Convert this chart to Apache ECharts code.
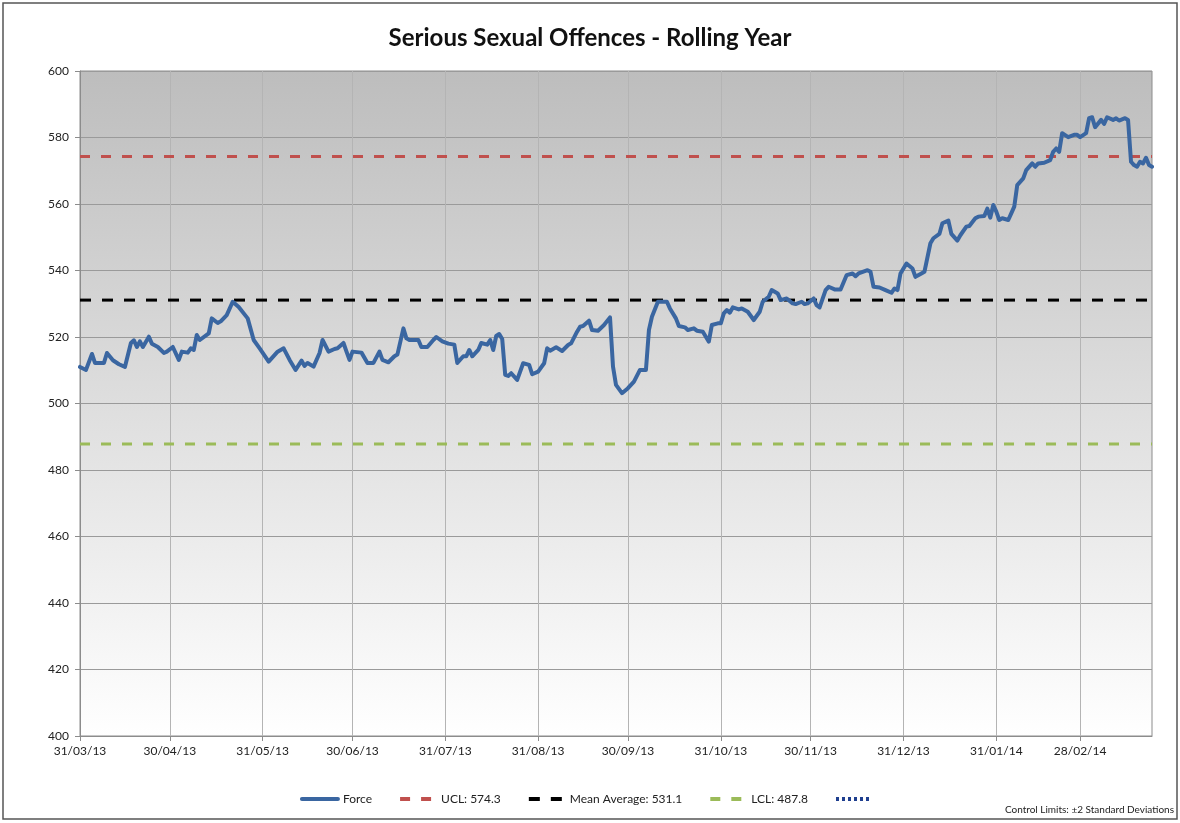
<!DOCTYPE html>
<html>
<head>
<meta charset="utf-8">
<title>Serious Sexual Offences - Rolling Year</title>
<script src="https://cdn.jsdelivr.net/npm/echarts@6/dist/echarts.min.js"></script>
<style>
  html, body { margin: 0; padding: 0; background: #fff; }
  #chart { width: 1180px; height: 823px; }
</style>
</head>
<body>
<div id="chart"></div>
<script>
// control limits
var ucl = 574.3;
var meanAvg = 531.1;
var lcl = 487.8;

// daily axis: 31/03/13 .. 24/03/14
var startDay = Date.UTC(2013, 2, 31);
var dayCount = 359;

// force rolling year (day = days after 31/03/13)
var forceDay = [
  0, 2, 4, 5, 8, 9, 11, 13, 15, 17, 18, 19, 20, 21, 23, 24, 26, 28, 29, 31,
  33, 34, 36, 37, 38, 39, 40, 43, 44, 46, 47, 49, 51, 53, 56, 58, 60, 63, 66, 68,
  70, 72,
  74, 75, 76, 78, 80, 81, 83, 85, 86, 88, 89, 90, 91, 94, 96, 98, 100, 101, 103, 105,
  106, 108, 109, 110, 113, 114, 116, 118, 119, 121, 123, 125, 126, 128, 129, 130, 131, 133, 134, 136,
  137, 138, 139, 140, 141,
  142, 143, 144, 146, 148, 150, 151, 153, 155, 156, 157, 159, 161, 163, 164, 166, 167, 168, 170, 171,
  173, 175, 177, 178, 179, 181, 183, 185, 187, 189, 190, 191, 193, 196, 197, 199, 200, 202, 203, 205,
  206, 208, 210, 211, 213,
  214, 215, 216, 217, 218, 220, 221, 223, 225, 227, 228, 230, 231, 233, 234, 236, 238, 239, 241, 242,
  243, 245, 246, 247, 249, 250, 252, 254, 256, 258, 259, 260, 263, 264, 265, 267, 269, 271, 272, 273,
  274, 276, 278, 279, 281, 282, 284, 285, 287,
  288, 290, 291, 293, 294, 296, 297, 299, 300, 302, 303, 304, 305, 306, 307, 308, 310, 311, 312, 313,
  315, 316, 318, 319, 320, 322, 324, 325, 326, 327, 328, 330, 332, 333, 334, 336, 337, 338, 339, 341,
  342, 343, 345, 346, 347, 349, 350, 351, 352, 353, 354, 355, 356, 357, 358
];
var forceValue = [
  511, 510.1, 514.9, 512.2, 512.2, 515.2, 513, 511.8, 511, 518.2, 519, 517, 518.7, 517, 520.1, 518, 517, 515.2, 515.6, 517,
  513.1, 515.6, 515.3, 516.6, 516.1, 520.6, 519.1, 521.1, 525.6, 524.2, 524.7, 526.6, 530.6, 529, 525.6, 519.1, 516.6, 512.6, 515.6, 516.6,
  513.1, 510.1,
  512.9, 511.3, 512.2, 511.1, 515.2, 519.1, 515.6, 516.4, 516.6, 518.2, 515.6, 513.1, 515.6, 515.3, 512.2, 512.2, 515.6, 513.1, 512.4, 514.2,
  514.7, 522.6, 519.6, 519.1, 519.1, 517, 517, 519.1, 520, 518.7, 518, 517.7, 512.2, 514.2, 514.2, 516.1, 514.2, 516.1, 518.2, 517.7,
  519.1, 516.1, 520.3, 520.9, 519.4,
  508.6, 508.3, 509.1, 507.1, 512.1, 511.6, 508.8, 509.6, 512.1, 516.6, 515.9, 516.9, 515.8, 517.6, 518.1, 521.6, 523.1, 523.3, 524.9, 522.1,
  521.9, 523.6, 525.9, 511.1, 505.6, 503.1, 504.6, 506.6, 510.1, 510.1, 522.1, 526.1, 530.6, 530.6, 528.6, 525.6, 523.3, 522.9, 522.1, 522.6,
  521.9, 521.6, 518.6, 523.6, 524.1,
  524.1, 527.1, 528.1, 527.3, 528.9, 528.3, 528.6, 527.6, 525.1, 527.6, 530.6, 532.1, 534.1, 533.1, 531.1, 531.6, 530.1, 529.9, 530.6, 529.9,
  530.1, 531.6, 529.6, 528.9, 534.1, 535.1, 534.3, 534.3, 538.6, 539.1, 538.3, 539.1, 540.1, 539.6, 535.1, 534.9, 534.1, 533.3, 534.6, 534.1,
  539.1, 542.1, 540.6, 538.1, 539.1, 539.6, 548.2, 549.7, 551,
  554.2, 555, 551, 549, 550.6, 553.2, 553.4, 555.7, 556.2, 556.4, 558.6, 555.9, 559.7, 557.7, 555.2, 555.7, 555.2, 557.2, 559.2, 565.7,
  567.7, 570.2, 572.2, 571.2, 572.2, 572.4, 573.2, 575.7, 576.7, 575.7, 581.3, 580.1, 580.8, 580.8, 580.1, 581.3, 585.8, 586.1, 583.1, 585.3,
  584.1, 586.1, 585.3, 585.8, 585.1, 585.8, 585.3, 572.7, 571.7, 571.2, 572.7, 572.2, 573.9, 571.7, 571.2
];

var yTicks = { min: 400, max: 600, step: 20 };

function pad(n) { return n < 10 ? '0' + n : '' + n; }

// build the daily category labels dd/mm/yy
var dayLabels = [];
var monthEnd = [];
for (var i = 0; i < dayCount; i++) {
  var d = new Date(startDay + i * 86400000);
  var next = new Date(startDay + (i + 1) * 86400000);
  dayLabels.push(pad(d.getUTCDate()) + '/' + pad(d.getUTCMonth() + 1) + '/' + pad(d.getUTCFullYear() % 100));
  monthEnd.push(next.getUTCDate() === 1);
}
function isMonthEnd(idx) { return monthEnd[idx]; }

var fontFam = 'Lato, "Open Sans", sans-serif';
var lastDay = dayCount - 1;

var chart = echarts.init(document.getElementById('chart'));
chart.setOption({
  animation: false,
  backgroundColor: '#ffffff',
  textStyle: { fontFamily: fontFam },
  title: {
    text: 'Serious Sexual Offences - Rolling Year',
    left: 'center',
    top: 21,
    textStyle: { fontSize: 24, fontWeight: 'bold', color: '#111', fontFamily: fontFam }
  },
  grid: {
    left: 80, right: 28, top: 71, bottom: 87,
    show: true,
    borderColor: '#8c8c8c',
    borderWidth: 1,
    backgroundColor: {
      type: 'linear', x: 0, y: 0, x2: 0, y2: 1,
      colorStops: [
        { offset: 0, color: '#bdbdbd' },
        { offset: 0.5, color: '#dedede' },
        { offset: 1, color: '#ffffff' }
      ]
    }
  },
  legend: {
    bottom: 13,
    left: 'center',
    itemWidth: 36,
    itemHeight: 10,
    itemGap: 26,
    itemStyle: { color: 'rgba(0,0,0,0)', borderWidth: 0 },
    lineStyle: { width: 4 },
    textStyle: { fontSize: 12, color: '#222', fontFamily: fontFam },
    data: ['Force', 'UCL: ' + ucl.toFixed(1), 'Mean Average: ' + meanAvg.toFixed(1), 'LCL: ' + lcl.toFixed(1), ' ']
  },
  xAxis: {
    type: 'category',
    data: dayLabels,
    boundaryGap: false,
    axisLine: { lineStyle: { color: '#8c8c8c' } },
    axisTick: { interval: isMonthEnd, length: 5, lineStyle: { color: '#8c8c8c' } },
    axisLabel: { interval: isMonthEnd, color: '#222', fontSize: 12, margin: 9, fontFamily: fontFam },
    splitLine: { show: true, interval: isMonthEnd, lineStyle: { color: '#b4b4b4', width: 1 } }
  },
  yAxis: {
    type: 'value',
    min: yTicks.min,
    max: yTicks.max,
    interval: yTicks.step,
    axisLine: { show: true, lineStyle: { color: '#8c8c8c' } },
    axisTick: { show: true, length: 5, lineStyle: { color: '#8c8c8c' } },
    axisLabel: { color: '#222', fontSize: 12, margin: 11, fontFamily: fontFam },
    splitLine: { lineStyle: { color: '#9a9a9a', width: 1 } }
  },
  series: [
    {
      name: 'UCL: ' + ucl.toFixed(1),
      type: 'line',
      symbol: 'none',
      data: [[0, ucl], [lastDay, ucl]],
      lineStyle: { color: '#c0504d', width: 3, type: [10, 11] },
      itemStyle: { color: '#c0504d' },
      z: 2
    },
    {
      name: 'Mean Average: ' + meanAvg.toFixed(1),
      type: 'line',
      symbol: 'none',
      data: [[0, meanAvg], [lastDay, meanAvg]],
      lineStyle: { color: '#000000', width: 3, type: [11, 11] },
      itemStyle: { color: '#000000' },
      z: 2
    },
    {
      name: 'LCL: ' + lcl.toFixed(1),
      type: 'line',
      symbol: 'none',
      data: [[0, lcl], [lastDay, lcl]],
      lineStyle: { color: '#9bbb59', width: 3, type: [10, 11] },
      itemStyle: { color: '#9bbb59' },
      z: 2
    },
    {
      name: ' ',
      type: 'line',
      symbol: 'none',
      data: [],
      lineStyle: { color: '#1f3f8f', width: 3, type: [3, 3] },
      itemStyle: { color: '#1f3f8f' }
    },
    {
      name: 'Force',
      type: 'line',
      symbol: 'none',
      data: forceDay.map(function (d, i) { return [d, forceValue[i]]; }),
      lineStyle: { color: '#3a66a1', width: 4, join: 'round', cap: 'round' },
      itemStyle: { color: '#3a66a1' },
      z: 3
    }
  ],
  graphic: [
    {
      type: 'rect',
      shape: { x: 3, y: 3, width: 1174, height: 816 },
      style: { fill: 'none', stroke: '#555', lineWidth: 1.5 },
      silent: true
    },
    {
      type: 'text',
      right: 6,
      bottom: 8,
      style: { text: 'Control Limits: \u00b12 Standard Deviations', fontSize: 10, fill: '#222', fontFamily: fontFam }
    }
  ]
});
</script>
</body>
</html>
